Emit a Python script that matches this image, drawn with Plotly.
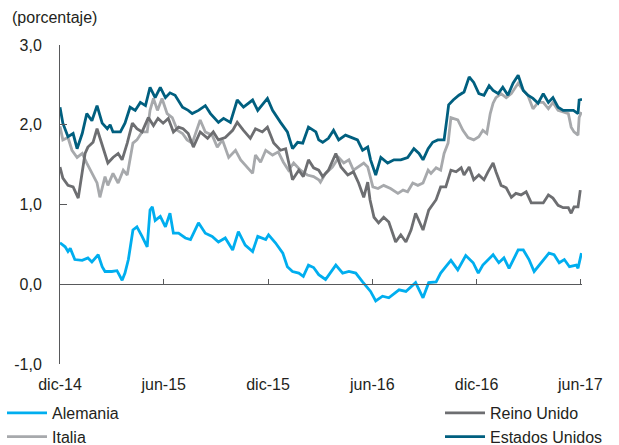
import datetime as dt
import plotly.graph_objects as go

# ---- data (days since 1 Dec 2014, yield in %) ----
BASE = dt.date(2014, 12, 1)

dias_alemania = [0, 9, 14, 18, 26, 39, 49, 56, 67, 74, 79, 91, 100, 109, 114, 120, 128, 135, 144, 153,
                 158, 162, 167, 176, 185, 193, 199, 208, 220, 229, 243, 255, 267, 278, 290, 303, 313, 325,
                 338, 347, 361, 366, 378, 391, 399, 408, 419, 427, 436, 445, 454, 466, 484, 496, 507, 519,
                 531, 545, 554, 566, 577, 595, 607, 624, 637, 647, 660, 668, 677, 686, 698, 712, 725, 734,
                 742, 760, 770, 779, 788, 804, 813, 823, 832, 848, 858, 867, 876, 885, 894, 906, 909, 915]
alemania = [0.52, 0.47, 0.41, 0.45, 0.31, 0.30, 0.33, 0.28, 0.37, 0.22, 0.16, 0.16, 0.17, 0.05, 0.14, 0.31,
            0.68, 0.72, 0.60, 0.47, 0.93, 0.97, 0.80, 0.85, 0.72, 0.89, 0.64, 0.64, 0.58, 0.56, 0.77, 0.64,
            0.60, 0.53, 0.58, 0.43, 0.66, 0.49, 0.41, 0.60, 0.56, 0.62, 0.52, 0.39, 0.22, 0.16, 0.14, 0.10,
            0.24, 0.21, 0.12, 0.06, 0.24, 0.14, 0.16, 0.14, 0.03, -0.09, -0.21, -0.15, -0.17, -0.07, -0.09,
            0.02, -0.17, 0.02, 0.03, 0.14, 0.22, 0.30, 0.18, 0.36, 0.27, 0.14, 0.24, 0.37, 0.27, 0.33, 0.20,
            0.43, 0.43, 0.31, 0.16, 0.31, 0.39, 0.37, 0.27, 0.31, 0.22, 0.24, 0.20, 0.39]

dias_italia = [0, 5, 14, 21, 30, 39, 47, 56, 65, 70, 79, 84, 93, 102, 111, 118, 123, 128, 135, 144, 153,
               158, 164, 171, 179, 188, 197, 206, 215, 223, 232, 246, 255, 267, 276, 285, 296, 308, 317,
               325, 338, 343, 352, 361, 373, 383, 392, 401, 410, 422, 434, 445, 454, 457, 466, 478, 489,
               498, 507, 515, 524, 533, 540, 549, 558, 568, 580, 593, 602, 610, 619, 628, 637, 646, 651,
               660, 668, 674, 681, 686, 698, 707, 716, 726, 735, 742, 749, 755, 760, 765, 774, 783, 792,
               804, 813, 821, 830, 839, 848, 857, 865, 874, 883, 892, 897, 902, 909, 911, 915]
italia = [1.98, 1.81, 1.84, 1.68, 1.59, 1.64, 1.52, 1.39, 1.27, 1.09, 1.35, 1.24, 1.39, 1.27, 1.43, 1.37,
          1.59, 1.77, 1.81, 1.91, 1.91, 2.18, 2.33, 2.18, 2.33, 2.14, 2.09, 1.93, 1.89, 1.81, 1.77, 2.06,
          1.91, 1.87, 1.72, 1.81, 1.59, 1.68, 1.56, 1.49, 1.39, 1.62, 1.53, 1.68, 1.62, 1.66, 1.53, 1.43,
          1.52, 1.43, 1.37, 1.35, 1.31, 1.28, 1.39, 1.47, 1.59, 1.52, 1.56, 1.43, 1.47, 1.52, 1.47, 1.22,
          1.20, 1.24, 1.20, 1.14, 1.18, 1.16, 1.27, 1.24, 1.27, 1.43, 1.39, 1.46, 1.43, 1.64, 1.77, 2.09,
          2.06, 1.93, 1.84, 1.81, 1.85, 1.93, 1.89, 2.14, 2.27, 2.34, 2.39, 2.34, 2.39, 2.52, 2.43, 2.37,
          2.20, 2.28, 2.28, 2.20, 2.28, 2.18, 2.16, 2.14, 1.97, 1.91, 1.87, 2.09, 2.16]

dias_reino_unido = [0, 5, 14, 23, 32, 39, 44, 49, 58, 65, 70, 76, 84, 93, 102, 109, 118, 127, 135, 144,
                    155, 164, 172, 181, 190, 199, 208, 216, 225, 234, 246, 259, 269, 278, 290, 303, 311,
                    322, 334, 343, 355, 364, 375, 387, 396, 408, 419, 427, 436, 445, 454, 461, 471, 484,
                    493, 505, 515, 524, 533, 540, 544, 551, 559, 568, 577, 589, 598, 607, 616, 624, 637,
                    647, 660, 668, 677, 686, 695, 704, 709, 718, 726, 735, 744, 751, 760, 765, 774, 783,
                    792, 800, 809, 818, 827, 836, 848, 857, 865, 874, 883, 892, 897, 902, 909, 913]
reino_unido = [1.47, 1.33, 1.24, 1.22, 1.08, 1.39, 1.64, 1.72, 1.78, 1.95, 1.84, 1.70, 1.52, 1.59, 1.64,
               1.56, 1.77, 2.02, 1.95, 1.91, 2.09, 1.99, 2.08, 2.02, 2.08, 1.91, 1.97, 1.95, 1.89, 1.72,
               1.91, 1.83, 1.91, 1.81, 1.84, 1.93, 2.03, 1.93, 1.83, 1.95, 1.91, 1.97, 1.77, 1.68, 1.70,
               1.31, 1.43, 1.35, 1.56, 1.46, 1.43, 1.35, 1.43, 1.64, 1.47, 1.37, 1.41, 1.27, 1.09, 1.28,
               1.06, 0.84, 0.77, 0.84, 0.78, 0.53, 0.62, 0.53, 0.68, 0.89, 0.68, 0.93, 1.06, 1.22, 1.22,
               1.43, 1.41, 1.46, 1.37, 1.47, 1.31, 1.37, 1.31, 1.41, 1.52, 1.41, 1.24, 1.21, 1.09, 1.14,
               1.12, 1.16, 1.02, 1.02, 1.02, 1.12, 1.08, 0.99, 0.96, 0.96, 0.89, 0.97, 0.97, 1.18]

dias_estados_unidos = [0, 5, 14, 23, 30, 39, 47, 56, 65, 74, 83, 88, 93, 106, 114, 123, 132, 141, 150,
                       158, 167, 176, 185, 193, 202, 215, 225, 232, 243, 255, 264, 278, 287, 299, 311,
                       322, 338, 347, 364, 373, 387, 399, 408, 417, 426, 436, 449, 454, 461, 471, 480,
                       489, 501, 514, 522, 531, 540, 545, 554, 563, 575, 586, 598, 610, 621, 630, 637,
                       646, 654, 663, 674, 679, 682, 690, 700, 709, 718, 726, 735, 744, 753, 760, 769,
                       777, 786, 795, 804, 813, 821, 830, 839, 848, 857, 865, 874, 883, 892, 901, 909,
                       911, 916]
estados_unidos = [2.22, 2.02, 1.85, 1.89, 1.70, 1.89, 2.14, 2.05, 2.24, 2.02, 1.95, 2.00, 1.91, 1.91,
                  2.02, 2.22, 2.18, 2.28, 2.24, 2.47, 2.34, 2.47, 2.34, 2.40, 2.37, 2.22, 2.18, 2.14,
                  2.18, 2.24, 2.14, 2.03, 2.08, 2.03, 2.31, 2.22, 2.31, 2.18, 2.33, 2.18, 2.03, 1.91,
                  1.70, 1.78, 1.77, 1.97, 1.91, 1.81, 1.78, 1.83, 1.93, 1.81, 1.87, 1.83, 1.81, 1.68,
                  1.72, 1.56, 1.37, 1.59, 1.52, 1.56, 1.56, 1.59, 1.70, 1.64, 1.56, 1.70, 1.78, 1.81,
                  1.81, 2.08, 2.25, 2.31, 2.37, 2.41, 2.60, 2.53, 2.39, 2.37, 2.49, 2.43, 2.39, 2.47,
                  2.37, 2.52, 2.62, 2.43, 2.37, 2.33, 2.27, 2.39, 2.28, 2.34, 2.22, 2.18, 2.18, 2.18,
                  2.14, 2.31, 2.32]

tick_dates = ["2014-12-01", "2015-06-01", "2015-12-01", "2016-06-01", "2016-12-01", "2017-06-01"]
tick_labels = ["dic-14", "jun-15", "dic-15", "jun-16", "dic-16", "jun-17"]
y_ticks = [-1, 0, 1, 2, 3]
y_tick_labels = ["-1,0", "0,0", "1,0", "2,0", "3,0"]


def to_dates(days):
    return [BASE + dt.timedelta(days=d) for d in days]


FONT = "Liberation Sans, Arial, Helvetica, sans-serif"
TXT = "#231f20"
AXIS = "#58595b"

fig = go.Figure()
series = [
    ("Alemania", dias_alemania, alemania, "#00aeef", "legend"),
    ("Italia", dias_italia, italia, "#a7a9ac", "legend"),
    ("Reino Unido", dias_reino_unido, reino_unido, "#6d6e71", "legend2"),
    ("Estados Unidos", dias_estados_unidos, estados_unidos, "#005f7f", "legend2"),
]
for name, d, v, col, lg in series:
    fig.add_trace(go.Scatter(x=to_dates(d), y=v, name=name, mode="lines",
                             line=dict(color=col, width=2.8), legend=lg,
                             hoverinfo="skip"))

legend_common = dict(xref="container", yref="container", xanchor="left",
                     y=1 - 396 / 445, yanchor="top", bgcolor="rgba(0,0,0,0)",
                     orientation="v", itemwidth=40,
                     font=dict(family=FONT, size=16, color=TXT), tracegroupgap=0)

fig.update_layout(
    width=619, height=445,
    margin=dict(l=60, r=37, t=45, b=81, autoexpand=False),
    paper_bgcolor="white", plot_bgcolor="white",
    font=dict(family=FONT, size=16, color=TXT),
    title=dict(text="(porcentaje)", xref="container", yref="container",
               x=12 / 619, xanchor="left", y=1 - 17 / 445, yanchor="middle",
               font=dict(family=FONT, size=16, color=TXT)),
    xaxis=dict(type="date", range=["2014-12-01", "2017-06-04"],
               tickvals=tick_dates, ticktext=tick_labels, tickangle=0,
               anchor="free", position=0.25,
               showline=True, linecolor=AXIS, linewidth=1,
               ticks="inside", ticklen=5, tickcolor=AXIS, tickwidth=1,
               ticklabelstandoff=86, showgrid=False, zeroline=False,
               tickfont=dict(family=FONT, size=16, color=TXT)),
    yaxis=dict(range=[-1, 3], tickvals=y_ticks, ticktext=y_tick_labels,
               showline=True, linecolor=AXIS, linewidth=1,
               ticks="inside", ticklen=7, tickcolor=AXIS, tickwidth=1,
               ticklabelstandoff=14, showgrid=False, zeroline=False,
               tickfont=dict(family=FONT, size=16, color=TXT)),
    legend=dict(x=2 / 619, **legend_common),
    legend2=dict(x=440 / 619, **legend_common),
    showlegend=True,
)

fig.write_html("out.html", config={"displayModeBar": False},
               post_script="document.body.style.margin='0';document.body.style.overflow='hidden';")
